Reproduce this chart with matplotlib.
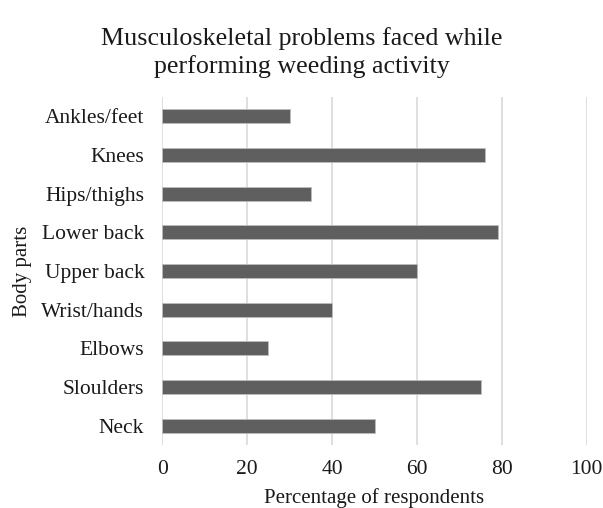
import matplotlib
matplotlib.use("Agg")
import matplotlib.pyplot as plt

categories = ["Neck", "Sloulders", "Elbows", "Wrist/hands", "Upper back",
              "Lower back", "Hips/thighs", "Knees", "Ankles/feet"]
values = [50, 75, 25, 40, 60, 79, 35, 76, 30]
xticks = [0, 20, 40, 60, 80, 100]

plt.rcParams['font.family'] = ['Liberation Serif', 'DejaVu Serif']

fig = plt.figure(figsize=(6.03, 5.08), dpi=100)
ax = fig.add_axes([0.2692, 0.124, 0.7039, 0.685])

ax.barh(range(len(categories)), values, height=0.355, color="#5f5f5f",
        edgecolor="#bdbdbd", linewidth=0.6, zorder=3)
ax.set_xlim(0, 100)
ax.set_ylim(-0.5, len(categories) - 0.5)
ax.set_yticks(range(len(categories)))
ax.set_yticklabels(categories, fontsize=15.5, color="#1a1a1a")
ax.set_xticks(xticks)
ax.set_xticklabels([str(t) for t in xticks], fontsize=15.5, color="#1a1a1a")
ax.tick_params(axis='both', length=0)
ax.tick_params(axis='y', pad=13)
ax.tick_params(axis='x', pad=11)
ax.grid(axis='x', color="#d9d9d9", linewidth=1.2, zorder=0)
for s in ax.spines.values():
    s.set_visible(False)

ax.set_xlabel("Percentage of respondents", fontsize=15, color="#1a1a1a", labelpad=6)
ax.set_ylabel("Body parts", fontsize=15, color="#1a1a1a", labelpad=7)
fig.text(0.5, 0.897, "Musculoskeletal problems faced while\nperforming weeding activity",
         ha="center", va="center", fontsize=18.7, color="#1a1a1a", linespacing=1.3)

fig.savefig("out.png", dpi=100)
